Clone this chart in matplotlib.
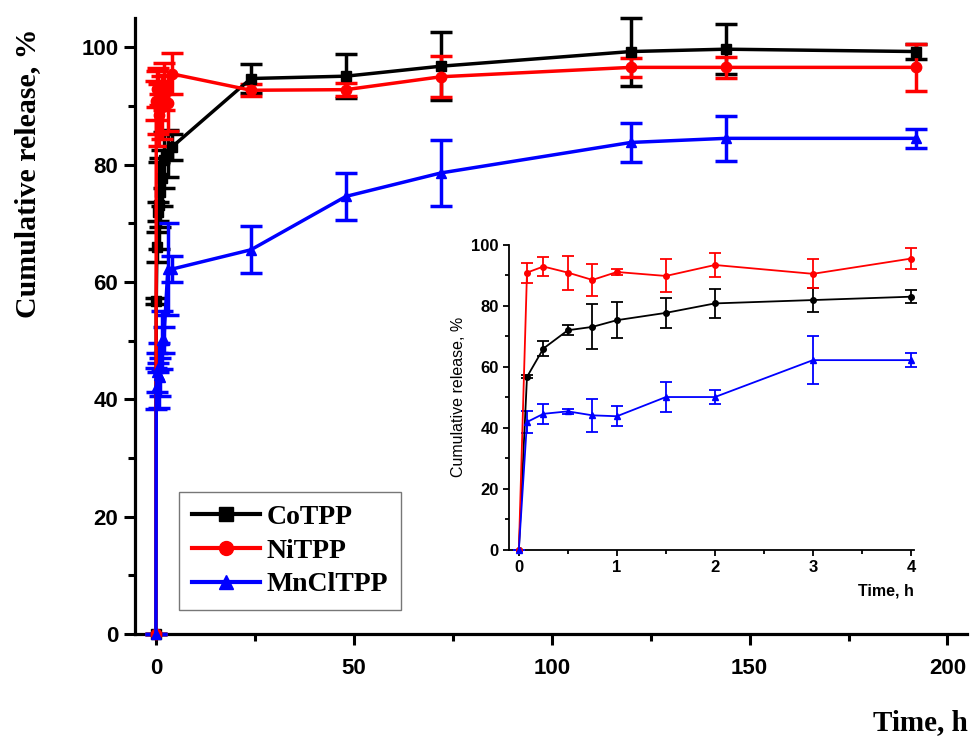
import numpy as np
import matplotlib.pyplot as plt
from matplotlib.lines import Line2D
from matplotlib.ticker import MultipleLocator

# Release time points, h
time_h = [0, 0.083, 0.25, 0.5, 0.75, 1, 1.5, 2, 3, 4, 24, 48, 72, 120, 144, 192]

# Cumulative release, % (mean and error)
co_tpp = [0, 56.7, 66.0, 72.0, 73.1, 75.3, 77.7, 80.8, 81.9, 83.0, 94.7, 95.1, 96.8, 99.3, 99.7, 99.3]
co_err = [0, 0.5, 2.5, 1.6, 7.4, 5.9, 4.8, 4.8, 4.0, 2.2, 2.4, 3.8, 5.8, 5.8, 4.3, 1.3]
ni_tpp = [0, 90.9, 92.9, 90.9, 88.5, 91.1, 89.8, 93.4, 90.5, 95.5, 92.7, 92.8, 95.0, 96.6, 96.6, 96.6]
ni_err = [0, 3.3, 3.0, 5.6, 5.3, 1.0, 5.4, 4.0, 4.8, 3.5, 1.0, 1.1, 3.5, 1.6, 1.8, 4.0]
mn_tpp = [0, 41.9, 44.6, 45.4, 44.1, 43.8, 50.1, 50.1, 62.2, 62.2, 65.5, 74.6, 78.6, 83.8, 84.5, 84.5]
mn_err = [0, 3.5, 3.3, 0.8, 5.5, 3.2, 5.0, 2.2, 7.9, 2.2, 4.0, 4.0, 5.6, 3.4, 3.8, 1.6]

series = [
    ("CoTPP", co_tpp, co_err, "#000000", "s"),
    ("NiTPP", ni_tpp, ni_err, "#ff0000", "o"),
    ("MnClTPP", mn_tpp, mn_err, "#0000ff", "^"),
]
n_inset = 10  # points up to 4 h

tick_font = {"family": "Liberation Sans", "weight": "bold"}
serif_font = {"family": "Liberation Serif", "weight": "bold"}

fig = plt.figure(figsize=(9.78, 7.42), dpi=100)
ax = fig.add_axes([0.138, 0.1456, 0.851, 0.830])

handles = []
for name, vals, errs, color, marker in series:
    ax.errorbar(time_h, vals, yerr=errs, color=color, marker=marker, ms=7.5,
                lw=2.5, elinewidth=2.5, capsize=8, capthick=2.5,
                clip_on=False, zorder=3)
    handles.append(Line2D([], [], color=color, marker=marker, ms=10, lw=3, label=name))

ax.set_xlim(-5.3, 205)
ax.set_ylim(0, 105)
ax.xaxis.set_major_locator(MultipleLocator(50))
ax.xaxis.set_minor_locator(MultipleLocator(25))
ax.yaxis.set_major_locator(MultipleLocator(20))
ax.yaxis.set_minor_locator(MultipleLocator(10))
for side in ["top", "right"]:
    ax.spines[side].set_visible(False)
for side in ["left", "bottom"]:
    ax.spines[side].set_linewidth(2.3)
ax.tick_params(which="major", direction="out", length=8, width=2.2)
ax.tick_params(which="minor", direction="out", length=5, width=2.2)
ax.tick_params(axis="x", pad=9)
ax.tick_params(axis="y", pad=4)
for lab in ax.get_xticklabels() + ax.get_yticklabels():
    lab.set_fontproperties(tick_font)
    lab.set_fontsize(16)

fig.text(0.028, 0.767, "Cumulative release, %", rotation=90, ha="center", va="center",
         fontsize=21.5, **serif_font)
fig.text(0.99, 0.008, "Time, h", ha="right", va="bottom", fontsize=21, **serif_font)

leg = ax.legend(handles=handles, loc="lower left", bbox_to_anchor=(0.053, 0.039),
                borderaxespad=0, frameon=True, fancybox=False, edgecolor="#555555",
                handlelength=2.45, borderpad=0.45, labelspacing=0.3, handletextpad=0.25,
                prop={"family": "Liberation Serif", "weight": "bold", "size": 20})
leg.get_frame().set_linewidth(1.0)

# inset with the first 4 hours
axi = fig.add_axes([0.5205, 0.259, 0.414, 0.411])
for name, vals, errs, color, marker in series:
    axi.errorbar(time_h[:n_inset], vals[:n_inset], yerr=errs[:n_inset], color=color,
                 marker="o" if marker != "^" else "^", ms=4, lw=1.3, elinewidth=1.3,
                 capsize=4.5, capthick=1.3, clip_on=False, zorder=3)

axi.set_xlim(-0.1, 4.03)
axi.set_ylim(0, 100)
axi.xaxis.set_major_locator(MultipleLocator(1))
axi.xaxis.set_minor_locator(MultipleLocator(0.5))
axi.yaxis.set_major_locator(MultipleLocator(20))
axi.yaxis.set_minor_locator(MultipleLocator(10))
for side in ["top", "right"]:
    axi.spines[side].set_visible(False)
for side in ["left", "bottom"]:
    axi.spines[side].set_linewidth(1.3)
axi.tick_params(which="major", direction="out", length=4.5, width=1.3, pad=3)
axi.tick_params(which="minor", direction="out", length=3, width=1.3)
for lab in axi.get_xticklabels() + axi.get_yticklabels():
    lab.set_fontproperties(tick_font)
    lab.set_fontsize(12)
axi.set_ylabel("Cumulative release, %", fontsize=11.5, family="Liberation Sans", labelpad=4)
axi.text(1.0, -0.11, "Time, h", transform=axi.transAxes, ha="right", va="top",
         fontsize=11.5, fontweight="bold", family="Liberation Sans")

fig.savefig("out.png", dpi=100)
